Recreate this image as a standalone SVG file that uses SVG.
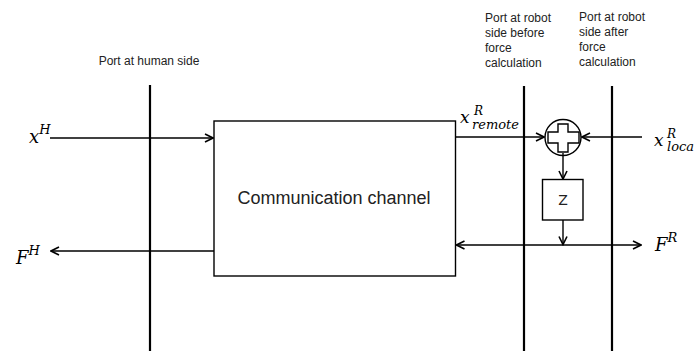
<svg xmlns="http://www.w3.org/2000/svg" width="694" height="351" viewBox="0 0 694 351">
<defs>
<marker id="ah" viewBox="0 0 10 10" refX="9" refY="5" markerWidth="10" markerHeight="10" markerUnits="userSpaceOnUse" orient="auto-start-reverse">
<path d="M1,1 L9,5 L1,9" fill="none" stroke="#000" stroke-width="1.6"/>
</marker>
<style>
.lbl{font-family:"Liberation Sans",Arial,sans-serif;font-size:12px;fill:#222}
.port{stroke:#000;stroke-width:2.2;fill:none}
.ln{stroke:#000;stroke-width:1.4;fill:none}
.box{stroke:#000;stroke-width:1.4;fill:#fff}
.math{font-family:"DejaVu Serif","Liberation Serif",serif;font-style:italic;fill:#000}
</style>
</defs>
<rect width="694" height="351" fill="#fff"/>
<g id="port-human">
<line class="port" x1="150" y1="85" x2="150" y2="351"/>
<text class="lbl" x="149" y="65" text-anchor="middle">Port at human side</text>
</g>
<g id="port-robot-before">
<line class="port" x1="524" y1="86" x2="524" y2="351"/>
<text class="lbl" x="485" y="22">Port at robot</text>
<text class="lbl" x="485" y="37">side before</text>
<text class="lbl" x="485" y="52">force</text>
<text class="lbl" x="485" y="67">calculation</text>
</g>
<g id="port-robot-after">
<line class="port" x1="612" y1="86" x2="612" y2="351"/>
<text class="lbl" x="579" y="21">Port at robot</text>
<text class="lbl" x="579" y="36">side after</text>
<text class="lbl" x="579" y="51">force</text>
<text class="lbl" x="579" y="66">calculation</text>
</g>
<g id="channel">
<rect class="box" x="214" y="121" width="241.5" height="155"/>
<text x="334" y="204" text-anchor="middle" font-family="Liberation Sans,Arial,sans-serif" font-size="18" fill="#222">Communication channel</text>
</g>
<g id="sum">
<circle cx="563" cy="137.5" r="18" fill="#fff" stroke="#000" stroke-width="1.4"/>
<path d="M558,124 H568 V132 H579 V143 H568 V152 H558 V143 H548 V132 H558 Z" fill="#fff" stroke="#000" stroke-width="1.4"/>
</g>
<g id="z-block">
<rect class="box" x="542.5" y="179.5" width="40.5" height="40.5"/>
<text x="563" y="205" text-anchor="middle" font-family="DejaVu Sans,Liberation Sans,sans-serif" font-size="14" fill="#222">Z</text>
</g>
<g id="labels">
<text class="math" x="29" y="143" font-size="18">x<tspan font-size="13" dy="-9">H</tspan></text>
<text class="math" x="16" y="264" font-size="18">F<tspan font-size="13" dy="-9">H</tspan></text>
<text class="math" x="460" y="123" font-size="17">x</text>
<text class="math" x="474" y="115" font-size="12">R</text>
<text class="math" x="472" y="129" font-size="13">remote</text>
<text class="math" x="654" y="146" font-size="17">x</text>
<text class="math" x="667" y="138" font-size="12">R</text>
<text class="math" x="667" y="151" font-size="13">local</text>
<text class="math" x="655" y="251" font-size="18">F<tspan font-size="13" dy="-9">R</tspan></text>
</g>
<g id="connectors">
<line class="ln" x1="50" y1="138" x2="213" y2="138" marker-end="url(#ah)"/>
<line class="ln" x1="214" y1="251" x2="51" y2="251" marker-end="url(#ah)"/>
<line class="ln" x1="455.5" y1="137" x2="544" y2="137" marker-end="url(#ah)"/>
<line class="ln" x1="642" y1="137" x2="582" y2="137" marker-end="url(#ah)"/>
<line class="ln" x1="563" y1="153" x2="563" y2="179" marker-end="url(#ah)"/>
<line class="ln" x1="563" y1="220" x2="563" y2="244.5" marker-end="url(#ah)"/>
<line class="ln" x1="456.5" y1="245" x2="641" y2="245" marker-start="url(#ah)" marker-end="url(#ah)"/>
</g>
</svg>
